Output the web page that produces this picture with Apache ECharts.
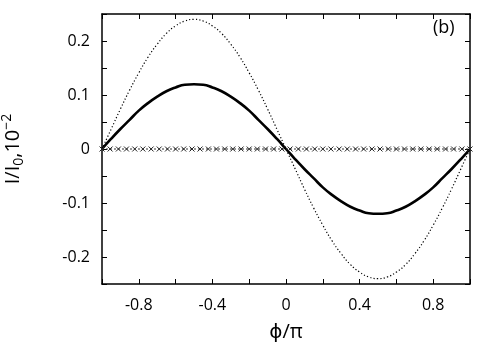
<!DOCTYPE html>
<html>
<head>
<meta charset="utf-8">
<script src="https://cdn.jsdelivr.net/npm/echarts@6/dist/echarts.min.js"></script>
<style>
  html, body { margin: 0; padding: 0; background: #fff; }
  #chart { width: 480px; height: 342px; }
</style>
</head>
<body>
<div id="chart"></div>
<script>
// phase values phi/pi, step 0.05
const phi = [-1, -0.95, -0.9, -0.85, -0.8, -0.75, -0.7, -0.65, -0.6, -0.55, -0.5,
  -0.45, -0.4, -0.35, -0.3, -0.25, -0.2, -0.15, -0.1, -0.05, 0,
  0.05, 0.1, 0.15, 0.2, 0.25, 0.3, 0.35, 0.4, 0.45, 0.5,
  0.55, 0.6, 0.65, 0.7, 0.75, 0.8, 0.85, 0.9, 0.95, 1]
// thick solid curve
const solidI = [0, 0.019, 0.037, 0.054, 0.071, 0.085, 0.097, 0.107, 0.114, 0.119, 0.12,
  0.119, 0.114, 0.107, 0.097, 0.085, 0.071, 0.054, 0.037, 0.019, 0,
  -0.019, -0.037, -0.054, -0.071, -0.085, -0.097, -0.107, -0.114, -0.119, -0.12,
  -0.119, -0.114, -0.107, -0.097, -0.085, -0.071, -0.054, -0.037, -0.019, 0]
// thin dotted curve
const dottedI = [0, 0.037, 0.074, 0.109, 0.141, 0.17, 0.194, 0.214, 0.228, 0.237, 0.24,
  0.237, 0.228, 0.214, 0.194, 0.17, 0.141, 0.109, 0.074, 0.037, 0,
  -0.037, -0.074, -0.109, -0.141, -0.17, -0.194, -0.214, -0.228, -0.237, -0.24,
  -0.237, -0.228, -0.214, -0.194, -0.17, -0.141, -0.109, -0.074, -0.037, 0]
// crosses along zero
const crossPhi = [-1, -0.956, -0.911, -0.867, -0.822, -0.778, -0.733, -0.689, -0.644, -0.6,
  -0.556, -0.511, -0.467, -0.422, -0.378, -0.333, -0.289, -0.244, -0.2, -0.156,
  -0.111, -0.067, -0.022, 0.022, 0.067, 0.111, 0.156, 0.2, 0.244, 0.289,
  0.333, 0.378, 0.422, 0.467, 0.511, 0.556, 0.6, 0.644, 0.689, 0.733,
  0.778, 0.822, 0.867, 0.911, 0.956, 1]
const crossI = crossPhi.map(() => 0)

const xTickLabels = ['-0.8', '-0.4', '0', '0.4', '0.8']
const yTickLabels = ['-0.2', '-0.1', '0', '0.1', '0.2']

const font = 'Open Sans, DejaVu Sans, sans-serif'

function pair(xs, ys) {
  return xs.map((x, i) => [x, ys[i]])
}

function xLabel(v) {
  let s = String(Math.round(v * 10) / 10)
  return xTickLabels.indexOf(s) > -1 ? s : ''
}
function yLabel(v) {
  let s = String(Math.round(v * 100) / 100)
  return yTickLabels.indexOf(s) > -1 ? s : ''
}

const axisBase = {
  type: 'value',
  axisLine: { show: true, onZero: false, lineStyle: { color: '#000', width: 1.5 } },
  axisTick: { show: true, inside: true, length: 5, lineStyle: { color: '#000', width: 1 } },
  splitLine: { show: false }
}

let chart = echarts.init(document.getElementById('chart'))
chart.setOption({
  animation: false,
  grid: { left: 102, right: 10, top: 14, bottom: 58, outerBoundsMode: 'none', containLabel: false },
  xAxis: [
    Object.assign({}, axisBase, {
      min: -1, max: 1, interval: 0.2, position: 'bottom',
      name: 'ϕ/π', nameLocation: 'middle', nameGap: 38,
      nameTextStyle: { fontSize: 20, color: '#000', fontFamily: font },
      axisLabel: { formatter: xLabel, fontSize: 16, color: '#000', margin: 13, fontFamily: font, showMinLabel: true, showMaxLabel: true }
    }),
    Object.assign({}, axisBase, {
      min: -1, max: 1, interval: 0.2, position: 'top',
      axisLabel: { show: false }
    })
  ],
  yAxis: [
    Object.assign({}, axisBase, {
      min: -0.25, max: 0.25, interval: 0.05, position: 'left',
      name: '{a|I/I}{s|0}{a|,10}{p|−2}', nameLocation: 'middle', nameGap: 76,
      nameTextStyle: {
        rich: {
          a: { fontSize: 20, color: '#000', fontFamily: font },
          s: { fontSize: 14, color: '#000', fontFamily: font, verticalAlign: 'bottom', padding: [9, 0, 0, 0] },
          p: { fontSize: 14, color: '#000', fontFamily: font, verticalAlign: 'top', padding: [0, 0, 12, 0] }
        }
      },
      axisLabel: { formatter: yLabel, fontSize: 16, color: '#000', margin: 12, fontFamily: font }
    }),
    Object.assign({}, axisBase, {
      min: -0.25, max: 0.25, interval: 0.05, position: 'right',
      axisLabel: { show: false }
    })
  ],
  graphic: [{
    type: 'text', left: 433, top: 19,
    style: { text: '(b)', fontSize: 18, fill: '#000', fontFamily: font }
  }],
  series: [
    {
      type: 'line', data: pair(phi, dottedI), smooth: true, symbol: 'none',
      lineStyle: { color: '#000', width: 1.2, type: [1.2, 2.2] }
    },
    {
      type: 'line', data: pair(phi, solidI), smooth: true, symbol: 'none',
      lineStyle: { color: '#000', width: 2.6 }
    },
    {
      type: 'line', data: pair(crossPhi, crossI),
      symbol: 'path://M0,0L10,10M10,0L0,10', symbolSize: 5,
      itemStyle: { color: 'none', borderColor: '#222', borderWidth: 1 },
      lineStyle: { color: '#333', width: 1, type: [2, 2] }
    }
  ]
})
</script>
</body>
</html>
